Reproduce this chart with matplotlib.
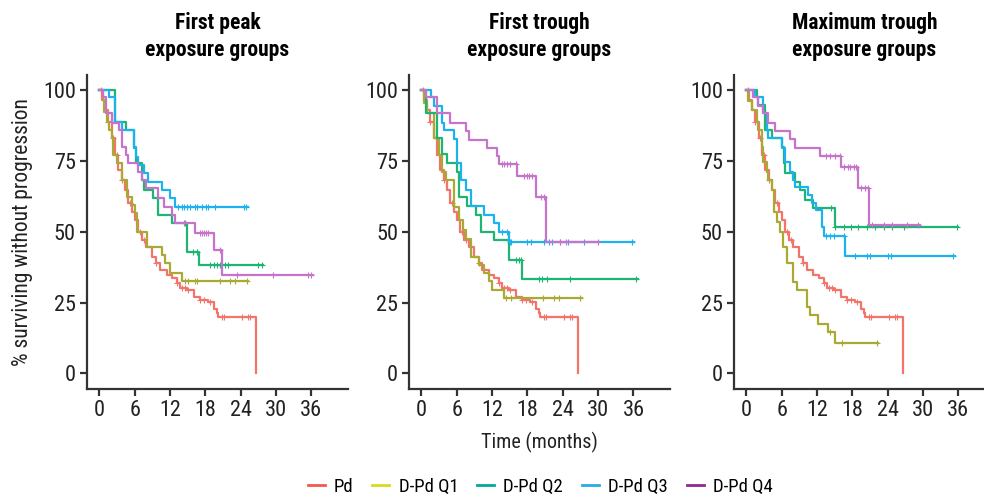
import numpy as np
import matplotlib
matplotlib.use('Agg')
import matplotlib.pyplot as plt
from matplotlib import font_manager
from matplotlib.lines import Line2D

# look for a narrow / condensed sans, otherwise Liberation Sans
font_name, font_stretch = 'Liberation Sans', 'normal'
found = {}
for f in font_manager.fontManager.ttflist:
    fn = f.fname.lower()
    if 'narrow' in fn or 'condensed' in fn:
        found.setdefault(f.name, f.stretch)
for pref in ['Liberation Sans Narrow', 'Roboto Condensed', 'Open Sans Condensed', 'Arial Narrow', 'DejaVu Sans']:
    if pref in found:
        font_name, font_stretch = pref, found[pref]
        break
plt.rcParams['font.family'] = [font_name, 'Liberation Sans', 'DejaVu Sans']
plt.rcParams['font.stretch'] = font_stretch

# Pd arm (same in every panel)
pd_t = [0.4, 1.0, 1.5, 2.1, 2.7, 3.2, 3.8, 4.4, 4.9, 5.5, 6.1, 6.6, 7.2, 8.0, 8.9, 9.7,
        10.3, 11.4, 12.3, 13.1, 13.7, 14.8, 16.0, 17.1, 18.5, 19.4, 19.9, 20.2, 26.6]
pd_s = [96.5, 92.9, 88.8, 82.9, 77.1, 71.8, 68.2, 64.7, 60.0, 57.1, 54.1, 50.0, 47.1, 44.7, 41.2, 38.8,
        36.5, 34.7, 33.5, 31.8, 30.0, 29.4, 27.1, 25.9, 25.3, 22.9, 21.2, 19.8, 0.0]
pd_c = [0.2, 1.5, 2.4, 3.0, 3.8, 5.2, 6.9, 7.5, 9.7, 13.1, 14.0, 14.5, 15.1, 17.1, 17.7, 18.8,
        20.8, 21.2, 24.2, 25.3, 25.5]
pd_end = 26.6

# First peak exposure groups
p1_q1_t = [0.6, 0.8, 1.25, 1.7, 2.1, 2.4, 2.95, 3.8, 4.65, 5.5, 6.06, 6.46, 8.04, 10.6, 11.2, 12.0, 14.0]
p1_q1_s = [96.5, 92.4, 88.8, 85.9, 82.9, 77.1, 74.1, 68.2, 62.4, 59.4, 56.5, 50.0, 44.7, 41.8, 38.8, 35.5, 32.6]
p1_q1_c = [14.5, 15.1, 16.2, 16.5, 20.5, 22.2, 23.0, 25.0]
p1_q1_end = 25.3

p1_q2_t = [2.7, 4.5, 5.8, 6.2, 7.2, 7.5, 9.1, 10.0, 12.3, 14.8, 16.9]
p1_q2_s = [88.8, 85.9, 79.4, 74.1, 68.2, 64.7, 61.8, 55.9, 52.9, 42.9, 38.2]
p1_q2_c = [14.55, 15.96, 16.5, 18.8, 19.4, 19.9, 20.5, 21.3, 21.9, 27.0, 27.6]
p1_q2_end = 27.7

p1_q3_t = [1.7, 2.7, 3.8, 5.8, 6.3, 6.6, 7.5, 8.3, 10.6, 12.0, 12.9]
p1_q3_s = [97.4, 88.8, 85.9, 80.0, 76.5, 73.5, 70.6, 67.6, 64.7, 61.8, 58.8]
p1_q3_c = [13.4, 14.0, 14.4, 14.8, 15.4, 16.2, 16.6, 17.4, 18.1, 18.5, 19.6, 24.5, 24.9]
p1_q3_end = 25.2

p1_q4_t = [0.7, 1.1, 2.1, 3.4, 3.8, 4.6, 4.9, 6.6, 7.2, 8.0, 10.0, 10.9, 12.3, 12.9, 16.2, 19.4, 20.9]
p1_q4_s = [97.6, 91.8, 88.2, 85.9, 80.0, 77.1, 74.1, 71.2, 68.2, 65.3, 61.8, 58.8, 55.9, 52.9, 49.6, 43.5, 34.7]
p1_q4_c = [14.3, 17.1, 17.4, 17.8, 18.1, 18.5, 20.5, 23.3, 29.5, 35.5, 35.9]
p1_q4_end = 36.3

# First trough exposure groups
p2_q1_t = [0.45, 1.0, 2.1, 3.0, 3.56, 4.1, 5.5, 6.4, 7.0, 7.5, 8.4, 9.8, 10.6, 11.5, 12.05, 14.0]
p2_q1_s = [95.3, 91.8, 82.9, 77.0, 71.2, 68.2, 58.8, 54.1, 50.6, 47.6, 41.2, 38.2, 35.3, 32.6, 29.4, 26.5]
p2_q1_c = [14.3, 15.2, 20.7, 22.5, 23.4, 27.0]
p2_q1_end = 27.3

p2_q2_t = [0.73, 2.71, 3.56, 4.41, 6.1, 6.39, 7.8, 9.2, 10.07, 12.3, 14.9, 17.1]
p2_q2_s = [91.8, 82.9, 77.4, 74.1, 71.2, 62.4, 59.1, 55.9, 50.0, 47.1, 40.0, 33.2]
p2_q2_c = [14.7, 16.0, 16.6, 16.9, 20.0, 20.5, 21.4, 25.2, 36.4]
p2_q2_end = 36.7

p2_q3_t = [1.58, 2.14, 3.56, 3.84, 5.54, 5.99, 6.67, 7.52, 8.37, 10.6, 12.3, 13.2, 14.9]
p2_q3_s = [97.4, 94.4, 88.5, 85.9, 82.6, 74.1, 68.2, 64.7, 59.1, 55.9, 52.9, 50.0, 46.5]
p2_q3_c = [13.7, 14.5, 15.0, 15.2, 17.9, 18.6, 20.8, 21.7, 22.2, 23.6, 24.8, 27.6, 35.8]
p2_q3_end = 36.1

p2_q4_t = [0.73, 2.71, 4.86, 7.52, 8.09, 11.09, 12.9, 13.2, 16.3, 19.4, 21.1]
p2_q4_s = [97.4, 91.8, 88.5, 85.6, 82.4, 79.4, 76.7, 73.8, 69.6, 62.1, 46.5]
p2_q4_c = [13.7, 14.1, 14.6, 15.0, 16.1, 17.4, 17.9, 18.3, 18.8, 20.3, 20.8, 23.6, 24.5, 29.9]
p2_q4_end = 29.9

# Maximum trough exposure groups
p3_q1_t = [0.35, 0.91, 1.76, 2.04, 2.6, 2.89, 3.46, 3.74, 4.3, 4.76, 5.16, 5.72, 6.29, 6.85,
           7.98, 8.55, 10.25, 10.8, 12.2, 13.9, 15.1]
p3_q1_s = [96.2, 92.9, 88.8, 85.9, 80.0, 74.7, 71.2, 68.2, 64.7, 57.1, 53.5, 50.0, 44.7, 38.8,
           32.4, 29.4, 23.5, 20.6, 17.6, 14.7, 10.8]
p3_q1_c = [14.2, 16.2, 22.1]
p3_q1_end = 22.4

p3_q2_t = [1.76, 2.04, 3.17, 4.3, 6.0, 6.45, 6.57, 8.27, 9.12, 9.97, 11.4, 15.1]
p3_q2_s = [97.6, 94.7, 85.9, 82.9, 80.0, 74.1, 70.6, 67.6, 64.7, 61.2, 58.2, 51.8]
p3_q2_c = [3.45, 14.4, 15.1, 16.6, 17.8, 19.0, 20.4, 21.9, 23.3, 24.7, 26.7, 35.7]
p3_q2_end = 36.0

p3_q3_t = [1.48, 2.9, 3.46, 3.74, 6.0, 6.57, 7.42, 7.98, 8.27, 10.5, 11.1, 11.9, 12.8, 13.1, 16.8]
p3_q3_s = [97.4, 91.8, 85.9, 82.9, 79.4, 74.7, 71.2, 68.2, 65.9, 62.9, 60.0, 57.6, 51.8, 48.5, 41.4]
p3_q3_c = [13.6, 14.2, 14.8, 16.6, 18.5, 20.4, 21.0, 24.1, 24.6, 35.1]
p3_q3_end = 35.4

p3_q4_t = [1.2, 2.0, 2.9, 3.7, 4.8, 7.4, 8.27, 12.5, 16.1, 19.0, 20.8]
p3_q4_s = [97.6, 94.4, 91.8, 88.2, 85.6, 82.6, 79.4, 76.7, 72.7, 65.3, 52.4]
p3_q4_c = [13.6, 14.2, 15.1, 15.9, 16.5, 17.2, 17.6, 18.2, 18.7, 19.5, 20.1, 20.7, 21.3,
           23.3, 24.7, 27.2, 29.2]
p3_q4_end = 29.5

titles = ['First peak\nexposure groups', 'First trough\nexposure groups', 'Maximum trough\nexposure groups']
group_names = ['Pd', 'D-Pd Q1', 'D-Pd Q2', 'D-Pd Q3', 'D-Pd Q4']
line_colors = ['#F2756C', '#A9AA33', '#1EB574', '#1DB1EE', '#C674CB']
legend_colors = ['#F15A4B', '#D7DA1E', '#00A99D', '#29ABE2', '#93278F']

panels = [
    [(pd_t, pd_s, pd_c, pd_end), (p1_q1_t, p1_q1_s, p1_q1_c, p1_q1_end),
     (p1_q2_t, p1_q2_s, p1_q2_c, p1_q2_end), (p1_q3_t, p1_q3_s, p1_q3_c, p1_q3_end),
     (p1_q4_t, p1_q4_s, p1_q4_c, p1_q4_end)],
    [(pd_t, pd_s, pd_c, pd_end), (p2_q1_t, p2_q1_s, p2_q1_c, p2_q1_end),
     (p2_q2_t, p2_q2_s, p2_q2_c, p2_q2_end), (p2_q3_t, p2_q3_s, p2_q3_c, p2_q3_end),
     (p2_q4_t, p2_q4_s, p2_q4_c, p2_q4_end)],
    [(pd_t, pd_s, pd_c, pd_end), (p3_q1_t, p3_q1_s, p3_q1_c, p3_q1_end),
     (p3_q2_t, p3_q2_s, p3_q2_c, p3_q2_end), (p3_q3_t, p3_q3_s, p3_q3_c, p3_q3_end),
     (p3_q4_t, p3_q4_s, p3_q4_c, p3_q4_end)],
]


def km_arrays(t, s, end):
    xs = np.concatenate([[0.0], t, [end]])
    ys = np.concatenate([[100.0], s, [s[-1]]])
    return xs, ys


def surv_at(t, s, c):
    idx = np.searchsorted(t, c, side='right')
    full = np.concatenate([[100.0], s])
    return full[idx]


narrow = font_stretch != 'normal' or 'Narrow' in font_name or 'Condensed' in font_name
fs_tick = 16 if narrow else 13.5
fs_title = 15.5 if narrow else 13.5
fs_ylab = 15.5 if narrow else 14
fs_xlab = 14.5 if narrow else 13
fs_leg = 13.5 if narrow else 12

fig = plt.figure(figsize=(9.84, 4.98), dpi=100)
lefts = [0.0884, 0.4157, 0.7459]
axis_col = '#333333'

for i, left in enumerate(lefts):
    ax = fig.add_axes([left, 0.2189, 0.2652, 0.6305])
    for g in range(5):
        t, s, c, end = panels[i][g]
        xs, ys = km_arrays(np.array(t), np.array(s), end)
        ax.step(xs, ys, where='post', color=line_colors[g], lw=1.6, zorder=2 + g)
        cy = surv_at(np.array(t), np.array(s), np.array(c))
        ax.plot(c, cy, ls='none', marker='+', ms=5, mew=0.8, color=line_colors[g], zorder=2 + g)

    ax.set_xlim(-2.1, 42.2)
    ax.set_ylim(-5.5, 105.3)
    ax.set_xticks([0, 6, 12, 18, 24, 30, 36])
    ax.set_yticks([0, 25, 50, 75, 100])
    for side in ['top', 'right']:
        ax.spines[side].set_visible(False)
    for side in ['left', 'bottom']:
        ax.spines[side].set_linewidth(1.6)
        ax.spines[side].set_color(axis_col)
    ax.tick_params(length=5, width=1.6, color=axis_col, labelsize=fs_tick, labelcolor='#222222', pad=3)
    ax.set_title(titles[i], fontsize=fs_title, fontweight='bold', pad=14, linespacing=1.25)
    if i == 0:
        ax.set_ylabel('% surviving without progression', fontsize=fs_ylab, color='#222222', labelpad=7)
    if i == 1:
        ax.set_xlabel('Time (months)', fontsize=fs_xlab, color='#222222', labelpad=8)

handles = [Line2D([0], [0], color=col, lw=2) for col in legend_colors]
fig.legend(handles, group_names, loc='center', bbox_to_anchor=(0.549, 0.022), ncol=5,
           frameon=False, fontsize=fs_leg, handlelength=0.9, handletextpad=0.5, columnspacing=1.0)

fig.savefig('out.png', dpi=100)
